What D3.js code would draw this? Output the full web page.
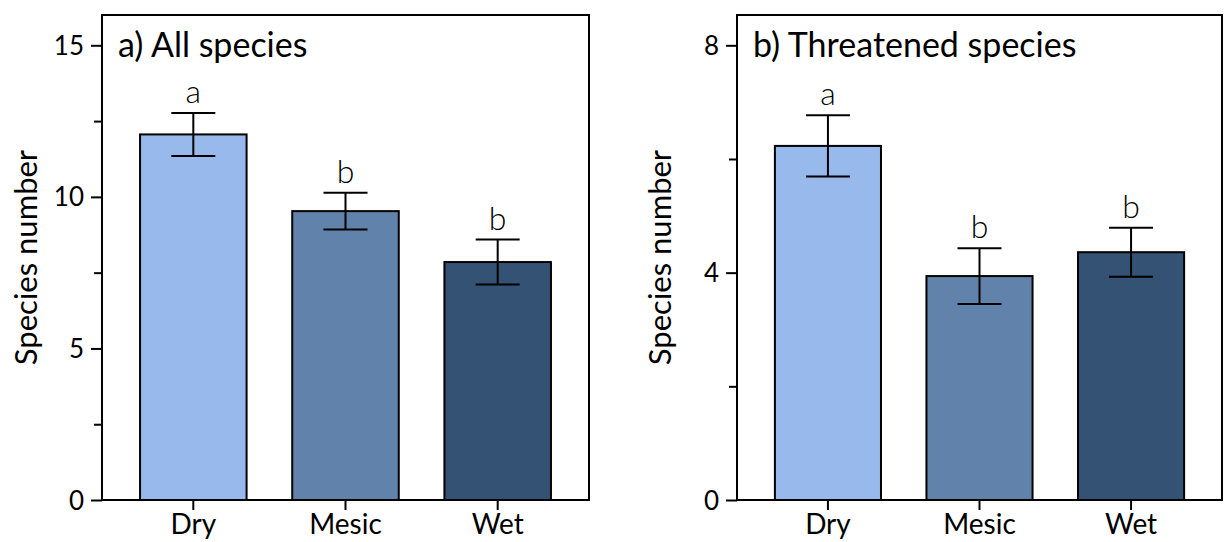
<!DOCTYPE html>
<html><head><meta charset="utf-8">
<script src="https://cdn.jsdelivr.net/npm/d3@7"></script>
<style>
body{margin:0;background:#fff;}
text{font-family:Lato,"Open Sans",sans-serif;fill:#000;}
</style></head>
<body><svg id="c" width="1226" height="542"></svg>
<script>
const categories = ["Dry","Mesic","Wet"];
const colors = ["#97b9eb","#6082ab","#345274"];
const allMeans = [12.06, 9.53, 7.85];
const allSE = [0.71, 0.61, 0.74];
const allLetters = ["a","b","b"];
const thrMeans = [6.23, 3.94, 4.36];
const thrSE = [0.54, 0.49, 0.43];
const thrLetters = ["a","b","b"];
const allTicks = [0,5,10,15];
const allMinor = [2.5,7.5,12.5];
const thrTicks = [0,4,8];
const thrMinor = [2,6];

const svg = d3.select("#c");
const panels = [
  {x0:102, x1:589, title:"a) All species", means:allMeans, se:allSE, letters:allLetters, ticks:allTicks, minor:allMinor, max:16, axX:26},
  {x0:737, x1:1222, title:"b) Threatened species", means:thrMeans, se:thrSE, letters:thrLetters, ticks:thrTicks, minor:thrMinor, max:8*16/15, axX:660}
];
const yTop=15, yBot=500;

panels.forEach(p=>{
  const g = svg.append("g");
  const x = d3.scaleBand().domain(categories).range([p.x0,p.x1]).paddingInner(0.3).paddingOuter(0.25);
  const y = d3.scaleLinear().domain([0,p.max]).range([yBot,yTop]);
  g.selectAll("rect.bar").data(categories).join("rect")
    .attr("x",d=>x(d)).attr("width",x.bandwidth())
    .attr("y",(d,i)=>y(p.means[i])).attr("height",(d,i)=>y(0)-y(p.means[i]))
    .attr("fill",(d,i)=>colors[i]).attr("stroke","#000").attr("stroke-width",2);
  categories.forEach((c,i)=>{
    const cx = x(c)+x.bandwidth()/2;
    const hi=y(p.means[i]+p.se[i]), lo=y(p.means[i]-p.se[i]);
    g.append("line").attr("x1",cx).attr("x2",cx).attr("y1",hi).attr("y2",lo).attr("stroke","#000").attr("stroke-width",2);
    [hi,lo].forEach(v=>g.append("line").attr("x1",cx-22).attr("x2",cx+22).attr("y1",v).attr("y2",v).attr("stroke","#000").attr("stroke-width",2));
    g.append("text").attr("x",cx).attr("y",hi-10).attr("text-anchor","middle")
      .style("font-size","32px").style("font-weight","300").text(p.letters[i]);
  });
  g.append("rect").attr("x",p.x0).attr("y",yTop).attr("width",p.x1-p.x0).attr("height",yBot-yTop)
    .attr("fill","none").attr("stroke","#000").attr("stroke-width",2);
  const ya = g.append("g").attr("transform",`translate(${p.x0},0)`)
    .call(d3.axisLeft(y).tickValues(p.ticks).tickSize(11).tickPadding(7).tickFormat(d3.format("d")));
  ya.select(".domain").remove();
  ya.selectAll("line").attr("stroke-width",2);
  ya.selectAll("text").style("font-size","26px").attr("dy","0.35em");
  const ym = g.append("g").attr("transform",`translate(${p.x0},0)`)
    .call(d3.axisLeft(y).tickValues(p.minor).tickSize(8).tickFormat(""));
  ym.select(".domain").remove();
  ym.selectAll("line").attr("stroke-width",2);
  const xa = g.append("g").attr("transform",`translate(0,${yBot})`)
    .call(d3.axisBottom(x).tickSize(10).tickPadding(4));
  xa.select(".domain").remove();
  xa.selectAll("line").attr("stroke-width",2);
  xa.selectAll("text").style("font-size","28px");
  g.append("text").attr("x",p.x0+16).attr("y",57).style("font-size","34px").text(p.title);
  g.append("text").attr("transform",`translate(${p.axX},${(yTop+yBot)/2}) rotate(-90)`)
    .attr("text-anchor","middle").attr("dy","0.35em").style("font-size","31px").text("Species number");
});
</script></body></html>
